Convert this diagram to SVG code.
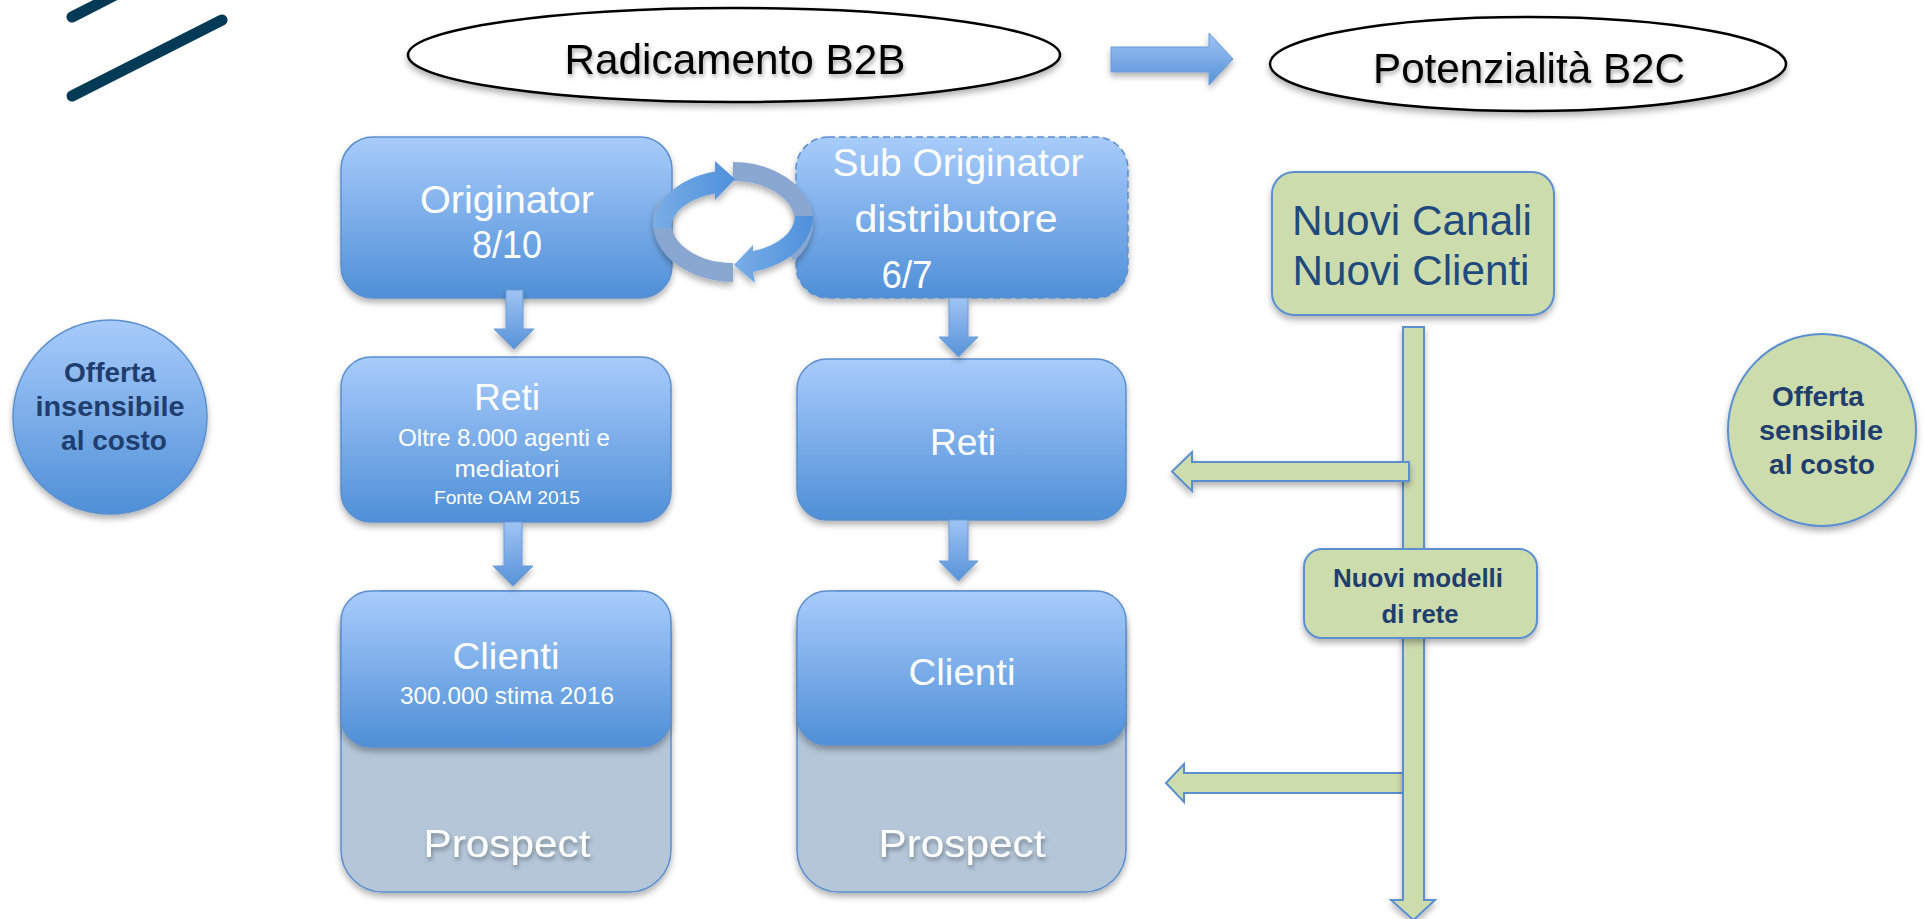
<svg xmlns="http://www.w3.org/2000/svg" width="1925" height="919" viewBox="0 0 1925 919">
<style>
  .t { font-family: "Liberation Sans", Arial, sans-serif; }
  .w { fill: #ffffff; }
  .nv { fill: #1f3e6e; font-weight: bold; }
  .blk { fill: #000000; }
  .box { fill: url(#gBlue); stroke: #5b8fd0; stroke-width: 1.5; }
  .pros { fill: #b4c6d8; stroke: #5b8fd0; stroke-width: 1.5; }
  .grn { fill: #cddcac; stroke: #5b8fd0; stroke-width: 2; }
  .arr { fill: url(#gArr); stroke: #6a9bd8; stroke-width: 1; }
  .garr { fill: #cddcac; stroke: #5b8fd0; stroke-width: 2; }
  .ell { fill: #ffffff; stroke: #000000; stroke-width: 2.5; }
  .rib { fill: url(#gRib); }
  .back { fill: #8aa7d2; }
</style>
<defs>
  <linearGradient id="gBlue" x1="0" y1="0" x2="0" y2="1">
    <stop offset="0" stop-color="#a8ccfb"/>
    <stop offset="1" stop-color="#4f8fd7"/>
  </linearGradient>
  <linearGradient id="gArr" x1="0" y1="0" x2="0" y2="1">
    <stop offset="0" stop-color="#9fc4f4"/>
    <stop offset="1" stop-color="#5792d8"/>
  </linearGradient>
  <linearGradient id="gRib" x1="0" y1="0" x2="1" y2="0">
    <stop offset="0" stop-color="#79aee6"/>
    <stop offset="1" stop-color="#4f90dc"/>
  </linearGradient>
  <filter id="sh" x="-10%" y="-10%" width="120%" height="130%">
    <feDropShadow dx="0" dy="4" stdDeviation="3" flood-color="#000" flood-opacity="0.3"/>
  </filter>
  <filter id="tsh" x="-10%" y="-30%" width="120%" height="160%">
    <feDropShadow dx="1" dy="3" stdDeviation="2" flood-color="#000" flood-opacity="0.35"/>
  </filter>
</defs>

<g id="decor" stroke="#033a56" stroke-width="11" stroke-linecap="round" fill="none">
  <line x1="72" y1="17" x2="125" y2="-10"/>
  <line x1="72" y1="96" x2="222" y2="20"/>
</g>

<g id="b2b">
  <ellipse class="ell" filter="url(#sh)" cx="734" cy="55" rx="326" ry="47"/>
  <text class="t blk" filter="url(#tsh)" x="735" y="74" font-size="42" text-anchor="middle" textLength="341" lengthAdjust="spacingAndGlyphs">Radicamento B2B</text>
</g>

<g id="b2c">
  <ellipse class="ell" filter="url(#sh)" cx="1528" cy="64" rx="258" ry="47"/>
  <text class="t blk" filter="url(#tsh)" x="1529" y="83" font-size="42" text-anchor="middle" textLength="312" lengthAdjust="spacingAndGlyphs">Potenzialità B2C</text>
</g>

<g id="originator">
  <rect class="box" filter="url(#sh)" x="341" y="137" width="331" height="161" rx="32"/>
  <text class="t w" x="507" y="213" font-size="38" text-anchor="middle" textLength="174" lengthAdjust="spacingAndGlyphs">Originator</text>
  <text class="t w" x="507" y="258" font-size="38" text-anchor="middle" textLength="70" lengthAdjust="spacingAndGlyphs">8/10</text>
</g>

<g id="suboriginator">
  <rect class="box" filter="url(#sh)" x="796" y="137" width="332" height="161" rx="32" stroke-dasharray="7 4" stroke-width="2"/>
  <text class="t w" x="958" y="176" font-size="38" text-anchor="middle" textLength="251" lengthAdjust="spacingAndGlyphs">Sub Originator</text>
  <text class="t w" x="956" y="232" font-size="38" text-anchor="middle" textLength="203" lengthAdjust="spacingAndGlyphs">distributore</text>
  <text class="t w" x="907" y="288" font-size="38" text-anchor="middle" textLength="51" lengthAdjust="spacingAndGlyphs">6/7</text>
</g>

<g id="reti-left">
  <rect class="box" filter="url(#sh)" x="341" y="357" width="330" height="165" rx="30"/>
  <text class="t w" x="507" y="410" font-size="36" text-anchor="middle" textLength="66" lengthAdjust="spacingAndGlyphs">Reti</text>
  <text class="t w" x="504" y="446" font-size="24" text-anchor="middle" textLength="212" lengthAdjust="spacingAndGlyphs">Oltre 8.000 agenti e</text>
  <text class="t w" x="507" y="477" font-size="24" text-anchor="middle" textLength="105" lengthAdjust="spacingAndGlyphs">mediatori</text>
  <text class="t w" x="507" y="504" font-size="19" text-anchor="middle" textLength="146" lengthAdjust="spacingAndGlyphs">Fonte OAM 2015</text>
</g>

<g id="reti-right">
  <rect class="box" filter="url(#sh)" x="797" y="359" width="329" height="161" rx="30"/>
  <text class="t w" x="963" y="455" font-size="36" text-anchor="middle" textLength="66" lengthAdjust="spacingAndGlyphs">Reti</text>
</g>

<g id="clienti-left">
  <rect class="pros" filter="url(#sh)" x="341" y="591" width="330" height="301" rx="42"/>
  <rect class="box" filter="url(#sh)" x="341" y="591" width="330" height="156" rx="30"/>
  <text class="t w" x="506" y="669" font-size="37" text-anchor="middle" textLength="107" lengthAdjust="spacingAndGlyphs">Clienti</text>
  <text class="t w" x="507" y="704" font-size="24" text-anchor="middle" textLength="214" lengthAdjust="spacingAndGlyphs">300.000 stima 2016</text>
  <text class="t w" filter="url(#tsh)" x="507" y="857" font-size="39" text-anchor="middle" textLength="167" lengthAdjust="spacingAndGlyphs">Prospect</text>
</g>

<g id="clienti-right">
  <rect class="pros" filter="url(#sh)" x="797" y="591" width="329" height="301" rx="42"/>
  <rect class="box" filter="url(#sh)" x="797" y="591" width="329" height="154" rx="30"/>
  <text class="t w" x="962" y="685" font-size="37" text-anchor="middle" textLength="107" lengthAdjust="spacingAndGlyphs">Clienti</text>
  <text class="t w" filter="url(#tsh)" x="962" y="857" font-size="39" text-anchor="middle" textLength="167" lengthAdjust="spacingAndGlyphs">Prospect</text>
</g>

<g id="nuovi-canali">
  <rect class="grn" filter="url(#sh)" x="1272" y="172" width="282" height="143" rx="22"/>
  <text class="t" fill="#1f4a7e" x="1412" y="235" font-size="42" text-anchor="middle" textLength="240" lengthAdjust="spacingAndGlyphs">Nuovi Canali</text>
  <text class="t" fill="#1f4a7e" x="1411" y="285" font-size="42" text-anchor="middle" textLength="237" lengthAdjust="spacingAndGlyphs">Nuovi Clienti</text>
</g>

<g id="offerta-insensibile">
  <circle filter="url(#sh)" cx="110" cy="417" r="97" fill="url(#gBlue)" stroke="#5b8fd0" stroke-width="1.5"/>
  <text class="t nv" x="110" y="382" font-size="28" text-anchor="middle">Offerta</text>
  <text class="t nv" x="110" y="416" font-size="28" text-anchor="middle" textLength="149" lengthAdjust="spacingAndGlyphs">insensibile</text>
  <text class="t nv" x="114" y="450" font-size="28" text-anchor="middle">al costo</text>
</g>

<g id="offerta-sensibile">
  <ellipse filter="url(#sh)" cx="1822" cy="430" rx="94" ry="96" fill="#cddcac" stroke="#5b8fd0" stroke-width="2"/>
  <text class="t nv" x="1818" y="406" font-size="28" text-anchor="middle">Offerta</text>
  <text class="t nv" x="1821" y="440" font-size="28" text-anchor="middle" textLength="124" lengthAdjust="spacingAndGlyphs">sensibile</text>
  <text class="t nv" x="1822" y="474" font-size="28" text-anchor="middle">al costo</text>
</g>

<g id="connectors">
  <path class="arr" filter="url(#sh)" d="M1111 47 H1209 V33 L1233 59 L1209 85 V72 H1111 Z"/>
  <path class="arr" filter="url(#sh)" d="M506 290 H523 V329 H534 L514 349 L494 329 H506 Z"/>
  <path class="arr" filter="url(#sh)" d="M504 522 H522 V566 H533 L513 586 L493 566 H504 Z"/>
  <path class="arr" filter="url(#sh)" d="M949 298 H968 V337 H978 L958.5 357 L939 337 H949 Z"/>
  <path class="arr" filter="url(#sh)" d="M949 520 H968 V561 H978 L958.5 581 L939 561 H949 Z"/>
  <g id="cycle" filter="url(#sh)">
    <path class="back" d="M733 162 A80 60 0 0 1 794.3 260.6 L780.5 248.4 A62 41 0 0 0 733 181 Z"/>
    <path class="back" fill="#93aed8" d="M733 282 A80 60 0 0 1 657.8 201.5 L674.7 208 A62 41 0 0 0 733 263 Z"/>
    <path class="rib" d="M653 228 A80 58 0 0 1 715 171.5 L715 161 L735 179 L715 200 L715 193.5 A62 36 0 0 0 671 228 Z"/>
    <path class="rib" d="M813 216 A80 58 0 0 1 753 272 L755 283 L734 265 L753 245 L753 251 A62 37 0 0 0 795 216 Z"/>
  </g>
  <path class="garr" d="M1404 773 V793 H1184 V802 L1166 783 L1184 764 V773 H1410 V793 H1404"/>
  <path class="garr" filter="url(#sh)" d="M1403 327 H1424 V900 H1435 L1413.5 920 L1391 900 H1403 Z"/>
  <path class="garr" filter="url(#sh)" d="M1409 462 V481 H1192 V491 L1172 471.5 L1192 452 V462 Z"/>
</g>

<g id="nuovi-modelli">
  <rect class="grn" filter="url(#sh)" x="1304" y="549" width="233" height="89" rx="18"/>
  <text class="t nv" x="1418" y="587" font-size="25" text-anchor="middle" textLength="170" lengthAdjust="spacingAndGlyphs">Nuovi modelli</text>
  <text class="t nv" x="1420" y="623" font-size="25" text-anchor="middle" textLength="77" lengthAdjust="spacingAndGlyphs">di rete</text>
</g>
</svg>
